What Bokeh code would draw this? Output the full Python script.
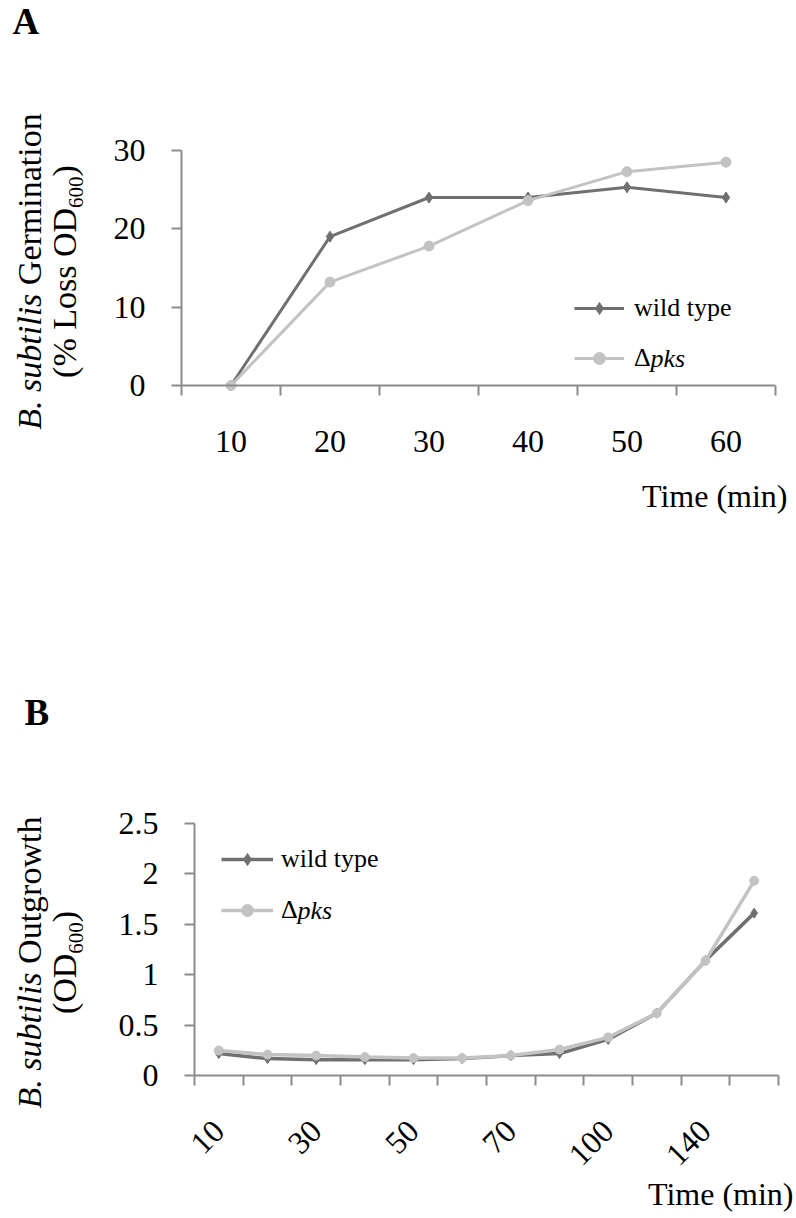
import math
from bokeh.plotting import figure
from bokeh.models import Range1d, FixedTicker, Label, Legend, LegendItem
from bokeh.layouts import column
from bokeh.embed import file_html
from bokeh.resources import INLINE

# ---------------- data ----------------
times_A = [10, 20, 30, 40, 50, 60]
wt_A = [0.0, 19.0, 24.0, 24.0, 25.3, 24.0]
pks_A = [0.0, 13.2, 17.8, 23.6, 27.3, 28.5]
yticks_A = [0, 10, 20, 30]

times_B = [10, 20, 30, 40, 50, 60, 70, 85, 100, 120, 140, 160]
wt_B = [0.22, 0.17, 0.16, 0.16, 0.16, 0.17, 0.20, 0.22, 0.36, 0.62, 1.14, 1.61]
pks_B = [0.25, 0.21, 0.20, 0.185, 0.175, 0.175, 0.20, 0.26, 0.38, 0.62, 1.14, 1.93]
yticks_B = [0, 0.5, 1, 1.5, 2, 2.5]
ytick_labels_B = ["0", "0.5", "1", "1.5", "2", "2.5"]

series_names = ["wild type", "\u0394", "pks"]
ylabel_A_line1 = [("B. subtilis", "italic"), (" Germination", "normal")]
ylabel_A_line2 = ["(% Loss OD", "600", ")"]
ylabel_B_line1 = [("B. subtilis", "italic"), (" Outgrowth", "normal")]
ylabel_B_line2 = ["(OD", "600", ")"]
xlabel = "Time (min)"
panel_letters = ["A", "B"]

# ---------------- style / layout ----------------
SERIF = "Liberation Serif"
WT = "#707070"
PK = "#c3c3c3"
AX = "#8c8c8c"

W = 794
HA, HB = 568, 648
# page-pixel geometry of the axes
A_X0, A_X1, A_Y0, A_Y1 = 181, 775, 385, 150
B_X0, B_X1, B_Y0, B_Y1 = 194, 778, 1075.3, 822.7
BASE_FIX = 0.38   # empirical correction of the alphabetic baseline (em)

REG = {" ": .25, "(": .333, ")": .333, "%": .833, "L": .611, "o": .5, "s": .389,
       "O": .722, "D": .722, "G": .722, "e": .444, "r": .333, "m": .778, "i": .278,
       "n": .5, "a": .444, "t": .278, "u": .5, "g": .5, "w": .722, "h": .5,
       "0": .5, "6": .5, ".": .25, "\u0394": .612}
ITA = {"B": .611, ".": .25, " ": .25, "s": .389, "u": .5, "b": .5, "t": .278,
       "i": .278, "l": .278}


def tw(text, size, style="normal"):
    tab = ITA if style == "italic" else REG
    return sum(tab.get(c, .5) for c in text) * size


def make_conv(px0, px1, dx0, dx1, py0, py1, dy0, dy1):
    kx = (px1 - px0) / (dx1 - dx0)
    ky = (py0 - py1) / (dy1 - dy0)

    def conv(rx, ry):
        return dx0 + (rx - px0) / kx, dy0 + (py0 - ry) / ky
    return conv


def base_fig(conv, top, h):
    xl, yb = conv(0, top + h)
    xr, yt = conv(W, top)
    p = figure(width=W, height=h, output_backend="svg", toolbar_location=None,
               title=None, x_range=Range1d(xl, xr), y_range=Range1d(yb, yt),
               min_border=0, min_border_left=0, min_border_right=0,
               min_border_top=0, min_border_bottom=0)
    p.outline_line_color = None
    p.xgrid.visible = False
    p.ygrid.visible = False
    for ax in (p.xaxis[0], p.yaxis[0]):
        ax.axis_line_color = AX
        ax.axis_line_width = 2
        ax.major_label_text_font = SERIF
        ax.major_label_text_font_size = "32px"
        ax.major_label_text_color = "black"
    y = p.yaxis[0]
    y.major_tick_in = 0
    y.major_tick_out = 10
    y.major_tick_line_color = AX
    y.major_tick_line_width = 2
    y.minor_tick_line_color = None
    y.major_label_standoff = 26
    x = p.xaxis[0]
    x.major_tick_line_color = None
    x.major_tick_in = 0
    x.major_tick_out = 0
    x.minor_tick_in = 0
    x.minor_tick_out = 10
    x.minor_tick_line_color = AX
    x.minor_tick_line_width = 2
    return p


def add_label(p, conv, rx, ry, text, size, style="normal", align="left",
              baseline="alphabetic", angle=0.0):
    if baseline == "alphabetic":
        if angle == 0:
            ry -= BASE_FIX * size
        else:
            rx -= BASE_FIX * size
    dx, dy = conv(rx, ry)
    p.add_layout(Label(x=dx, y=dy, x_units="data", y_units="data", text=text,
                       text_font=SERIF, text_font_size=f"{size}px",
                       text_font_style=style, text_align=align,
                       text_baseline=baseline, angle=angle, text_color="black"))


def add_ylabel(p, conv, line1, line2, center, size=34, sub=21):
    w1 = sum(tw(t, size, s) for t, s in line1)
    y = center + w1 / 2
    for t, s in line1:
        lead = tw(t[:len(t) - len(t.lstrip())], size, s)
        add_label(p, conv, 42, y - lead, t.strip(), size, s, angle=math.pi / 2)
        y -= tw(t, size, s)
    a, b, c = line2
    w2 = tw(a, size) + tw(b, sub) + tw(c, size)
    y = center + w2 / 2
    add_label(p, conv, 77, y, a, size, angle=math.pi / 2)
    y -= tw(a, size)
    add_label(p, conv, 83, y, b, sub, angle=math.pi / 2)
    y -= tw(b, sub)
    add_label(p, conv, 77, y, c, size, angle=math.pi / 2)


def add_legend(p, conv, rends, gx, row2_center, pitch, top, h, glyph_w, standoff):
    row_h = 30
    leg = Legend(items=[LegendItem(label=series_names[0], renderers=rends[0]),
                        LegendItem(label=series_names[1], renderers=rends[1])],
                 location=(gx, top + h - (row2_center + row_h / 2)),
                 padding=0, margin=0, spacing=pitch - row_h,
                 glyph_width=glyph_w, glyph_height=row_h, label_height=row_h,
                 label_standoff=standoff, label_text_font=SERIF,
                 label_text_font_size="26px", label_text_color="black",
                 border_line_color=None, background_fill_alpha=0)
    p.add_layout(leg)
    add_label(p, conv, gx + glyph_w + standoff + tw("\u0394", 26), row2_center,
              series_names[2], 26, "italic", baseline="middle")


# ---------------- panel A ----------------
stepA = times_A[1] - times_A[0]
xa0, xa1 = times_A[0] - stepA / 2, times_A[-1] + stepA / 2
ya0, ya1 = yticks_A[0], yticks_A[-1]
convA = make_conv(A_X0, A_X1, xa0, xa1, A_Y0, A_Y1, ya0, ya1)
pa = base_fig(convA, 0, HA)
pa.xaxis[0].fixed_location = ya0
pa.xaxis[0].bounds = (xa0, xa1)
pa.yaxis[0].fixed_location = xa0
pa.yaxis[0].bounds = (ya0, ya1)
pa.xaxis[0].ticker = FixedTicker(ticks=times_A,
                                 minor_ticks=[t - stepA / 2 for t in times_A] + [xa1])
pa.yaxis[0].ticker = FixedTicker(ticks=yticks_A, minor_ticks=[])
pa.xaxis[0].major_label_standoff = 35

l1 = pa.line(times_A, wt_A, line_color=WT, line_width=3)
s1 = pa.scatter(times_A, wt_A, marker="diamond", size=11, color=WT)
l2 = pa.line(times_A, pks_A, line_color=PK, line_width=3)
s2 = pa.scatter(times_A, pks_A, marker="circle", size=10, color=PK)

add_legend(pa, convA, [[l1, s1], [l2, s2]], 574, 358, 50, 0, HA, 50, 10)
add_ylabel(pa, convA, ylabel_A_line1, ylabel_A_line2, 271)
add_label(pa, convA, 787, 508, xlabel, 32, align="right")
add_label(pa, convA, 12, 35, panel_letters[0], 37, "bold")

# ---------------- panel B ----------------
nB = len(times_B)
idxB = list(range(nB))
xb0, xb1 = -0.5, nB - 0.5
yb0, yb1 = yticks_B[0], yticks_B[-1]
convB = make_conv(B_X0, B_X1, xb0, xb1, B_Y0, B_Y1, yb0, yb1)
pb = base_fig(convB, HA, HB)
pb.xaxis[0].fixed_location = yb0
pb.xaxis[0].bounds = (xb0, xb1)
pb.yaxis[0].fixed_location = xb0
pb.yaxis[0].bounds = (yb0, yb1)
shown = idxB[::2]
pb.xaxis[0].ticker = FixedTicker(ticks=shown, minor_ticks=[i - 0.5 for i in idxB] + [xb1])
pb.xaxis[0].major_label_overrides = {i: str(times_B[i]) for i in shown}
pb.xaxis[0].major_label_orientation = math.pi / 4
pb.xaxis[0].major_label_standoff = 40
pb.yaxis[0].ticker = FixedTicker(ticks=yticks_B, minor_ticks=[])
pb.yaxis[0].major_label_overrides = dict(zip(yticks_B, ytick_labels_B))

m1 = pb.line(idxB, wt_B, line_color=WT, line_width=3.5)
n1 = pb.scatter(idxB, wt_B, marker="diamond", size=10, color=WT)
m2 = pb.line(idxB, pks_B, line_color=PK, line_width=3.5)
n2 = pb.scatter(idxB, pks_B, marker="circle", size=9, color=PK)

add_legend(pb, convB, [[m1, n1], [m2, n2]], 221, 910, 51, HA, HB, 52, 8)
add_ylabel(pb, convB, ylabel_B_line1, ylabel_B_line2, 962)
add_label(pb, convB, 793, 1206, xlabel, 32, align="right")
add_label(pb, convB, 24, 726, panel_letters[1], 37, "bold")

layout = column(pa, pb)
open("out.html", "w").write(file_html(layout, INLINE))
